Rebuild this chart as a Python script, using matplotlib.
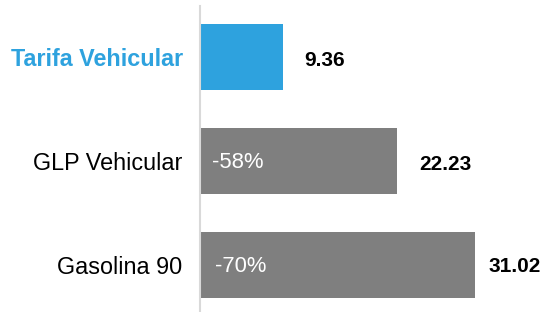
import matplotlib
matplotlib.use("Agg")
import matplotlib.pyplot as plt

categories = ["Tarifa Vehicular", "GLP Vehicular", "Gasolina 90"]
values = [9.36, 22.23, 31.02]
value_labels = ["9.36", "22.23", "31.02"]
pct_labels = ["", "-58%", "-70%"]

blue = "#2EA2DE"
gray = "#7F7F7F"
colors = [blue, gray, gray]

plt.rcParams['font.family'] = ['Liberation Sans', 'DejaVu Sans']

fig = plt.figure(figsize=(5.46, 3.12), dpi=100)
ax = fig.add_axes([200/546, 0, 346/546, 306/312])

y = list(range(len(categories)))
ax.barh(y, values, height=0.64, color=colors, zorder=2)

ax.set_xlim(0, 39.03)
ax.set_ylim(2.452, -0.49)

for s in ["top", "right", "bottom"]:
    ax.spines[s].set_visible(False)
ax.spines["left"].set_color("#D9D9D9")
ax.spines["left"].set_linewidth(1.5)
ax.set_xticks([])
ax.set_yticks(y)
ax.set_yticklabels(categories, fontsize=16.8)
ax.tick_params(axis="y", length=0, pad=12.5)
for i, lab in enumerate(ax.get_yticklabels()):
    if i == 0:
        lab.set_color(blue)
        lab.set_fontweight("bold")
    else:
        lab.set_color("black")

label_offsets = [21, 22, 14]
label_dy = [-4, -4, -2]
for i, v in enumerate(values):
    ax.annotate(value_labels[i], xy=(v, i), xytext=(label_offsets[i], label_dy[i]), textcoords="offset pixels",
                ha="left", va="center", fontsize=15, fontweight="bold", color="black")
    if pct_labels[i]:
        ax.annotate(pct_labels[i], xy=(0, i), xytext=(12 + (i - 1) * 3, -2), textcoords="offset pixels",
                    ha="left", va="center", fontsize=15.8, color="white")

fig.savefig("out.png", dpi=100)
